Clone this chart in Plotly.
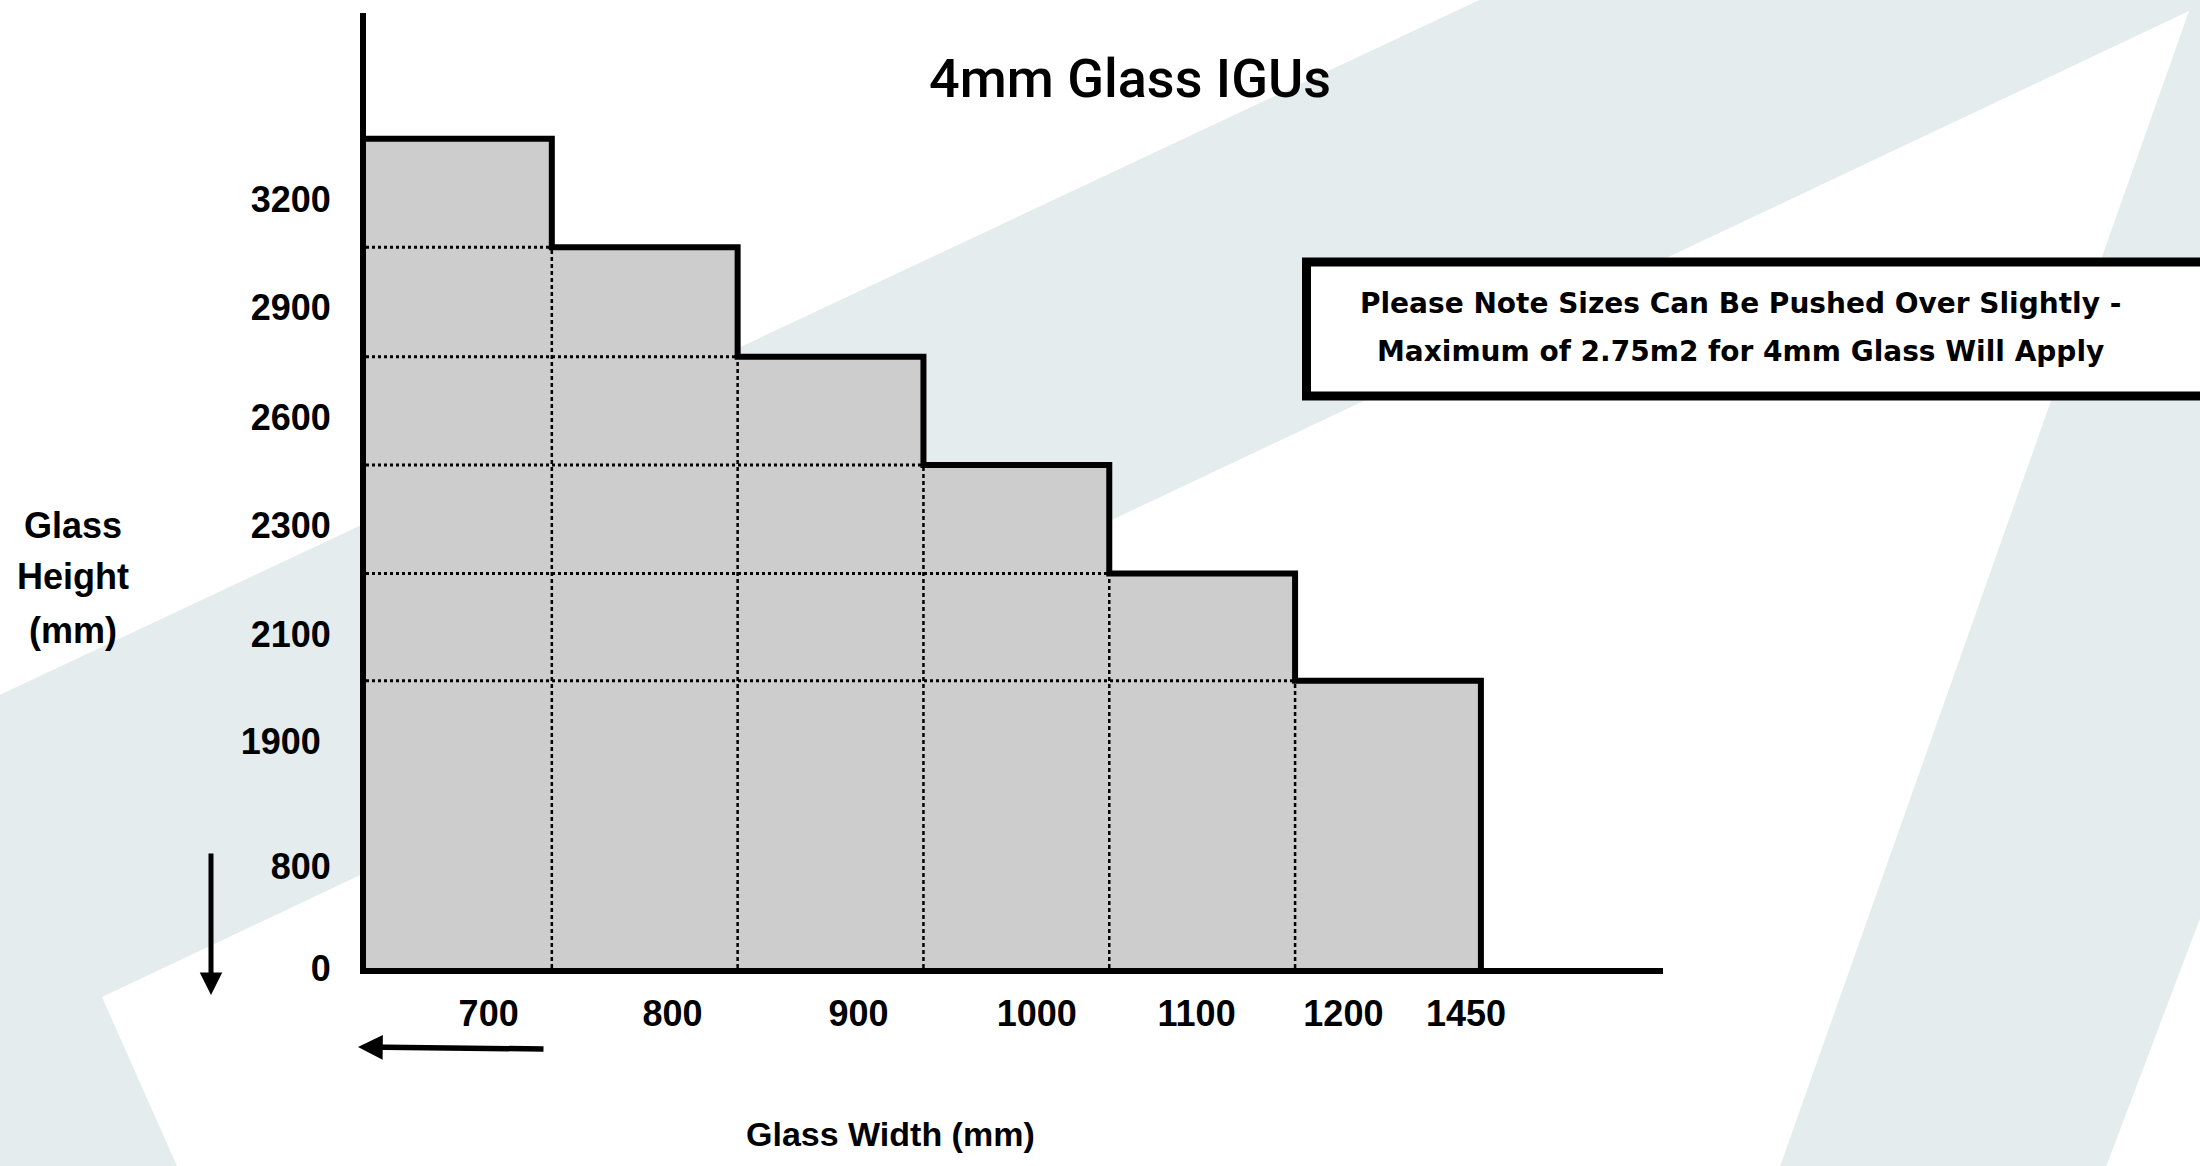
import plotly.graph_objects as go

# width bands along the bottom (mm) and height limits up the side (mm)
width_labels  = ['700', '800', '900', '1000', '1100', '1200', '1450']
height_labels = ['3200', '2900', '2600', '2300', '2100', '1900\u00a0', '800', '0']
# top of each step in grid rows (schematic scale)
step_tops = [7.65, 6.65, 5.64, 4.64, 3.64, 2.65]

title_text = '4mm Glass IGUs'
note_lines = ['Please Note Sizes Can Be Pushed Over Slightly -',
              'Maximum of 2.75m2 for 4mm Glass Will Apply']

# ---- layout constants (pixels on the 2200x1166 page) ----
W, H = 2200, 1166
PL, PR, PT, PB = 366, 1663, 13, 968
x_label_pos = [0.66, 1.65, 2.65, 3.61, 4.47, 5.26, 5.92]
y_label_pos = [t - 0.56 for t in step_tops] + [0.94, 0]

LABEL_FONT = dict(family='Liberation Sans, Arial, sans-serif', size=36, color='black', weight='bold')
BG = '#e4ecee'


def px(x):
    return (x - PL) / (PR - PL)


def py(y):
    return (PB - y) / (PB - PT)


def label(text, x, y, font):
    return dict(text=text, x=px(x), y=py(y), xref='paper', yref='paper', showarrow=False,
                xanchor='center', yanchor='middle', font=font)


n = len(step_tops)
fig = go.Figure()

fig.add_trace(go.Bar(
    x=[i + 0.5 for i in range(n)], y=step_tops, width=1,
    marker=dict(color='#cdcdcd', line=dict(width=0)), hoverinfo='skip',
))

# dotted guide lines inside the shaded area
hx, hy, vx, vy = [], [], [], []
for k in range(1, n):
    hx += [0, k, None]
    hy += [step_tops[k], step_tops[k], None]
    vx += [k, k, None]
    vy += [0, step_tops[k], None]
fig.add_trace(go.Scatter(x=hx, y=hy, mode='lines', hoverinfo='skip',
                         line=dict(color='black', width=3, dash='3px,3px')))
fig.add_trace(go.Scatter(x=vx, y=vy, mode='lines', hoverinfo='skip',
                         line=dict(color='black', width=2.5, dash='4px,3px')))

# stepped outline
fig.add_trace(go.Scatter(
    x=list(range(n + 1)), y=step_tops + [0], mode='lines', line_shape='hv',
    line=dict(color='black', width=6), hoverinfo='skip',
))

# background "7" shape
bg_pts = [(-5, 697), (1490, -5), (2210, -5), (2210, 892), (2103, 1175), (1777, 1175),
          (2189, 11), (102, 997), (181, 1175), (-5, 1175)]
path = 'M ' + ' L '.join(f'{px(a):.5f},{py(b):.5f}' for a, b in bg_pts) + ' Z'
shapes = [
    dict(type='path', xref='paper', yref='paper', path=path, fillcolor=BG,
         line=dict(width=0), layer='below'),
    dict(type='rect', xref='paper', yref='paper', x0=px(1306.5), x1=px(2240),
         y0=py(262), y1=py(396), fillcolor='white', line=dict(color='black', width=9),
         layer='below'),
]

note_font = dict(family='DejaVu Sans, sans-serif', size=28, color='black', weight='bold')
annotations = [
    label(title_text, 1130, 78, dict(family='Roboto, sans-serif', size=54, color='black', weight=500)),
    label(note_lines[0], 1740, 303, note_font),
    label(note_lines[1], 1740, 352, note_font),
    label('Glass Width (mm)', 890, 1134, dict(LABEL_FONT, size=34)),
]
for word, yy in zip(['Glass', 'Height', '(mm)'], [525, 576, 630]):
    annotations.append(label(word, 73, yy, LABEL_FONT))

# direction arrows
annotations += [
    dict(text='', x=px(211), y=py(995), xref='paper', yref='paper', ax=0, ay=-143,
         showarrow=True, arrowhead=2, arrowsize=0.9, arrowwidth=5, arrowcolor='black'),
    dict(text='', x=px(358), y=py(1047), xref='paper', yref='paper', ax=187, ay=2,
         showarrow=True, arrowhead=2, arrowsize=0.9, arrowwidth=5.5, arrowcolor='black'),
]

axis_common = dict(showgrid=False, zeroline=False, showline=True, linewidth=6,
                   linecolor='black', ticks='', tickmode='array',
                   tickfont=LABEL_FONT, fixedrange=True)

fig.update_layout(
    width=W, height=H, autosize=False, showlegend=False,
    margin=dict(l=PL, r=W - PR, t=PT, b=H - PB, pad=0),
    paper_bgcolor='white', plot_bgcolor='rgba(0,0,0,0)',
    xaxis=dict(axis_common, range=[0, 6.98], tickvals=x_label_pos, ticktext=width_labels,
               ticklabelstandoff=9),
    yaxis=dict(axis_common, range=[0, 8.81], tickvals=y_label_pos, ticktext=height_labels,
               ticklabelstandoff=22),
    shapes=shapes, annotations=annotations, hovermode=False,
)

# drop the browser's default 8px page margin so the figure sits at the page origin
fig.write_html('out.html', config={'displayModeBar': False},
               post_script="document.body.style.margin='0';")
